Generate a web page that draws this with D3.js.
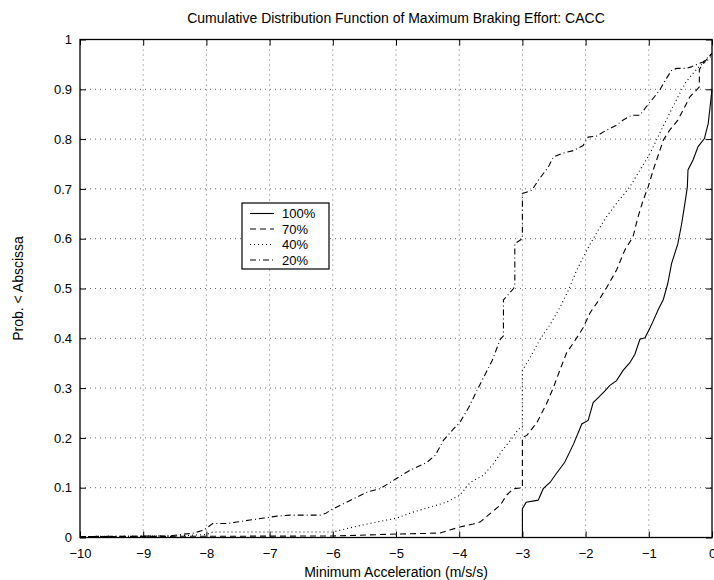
<!DOCTYPE html>
<html><head><meta charset="utf-8">
<script src="https://cdn.jsdelivr.net/npm/d3@7"></script>
<style>
html,body{margin:0;padding:0;background:#fff;}
svg{display:block;font-family:"Liberation Sans",Arial,Helvetica,sans-serif;}
</style></head>
<body>
<script>
const xTicks = [-10,-9,-8,-7,-6,-5,-4,-3,-2,-1,0];
const yTicks = [0,0.1,0.2,0.3,0.4,0.5,0.6,0.7,0.8,0.9,1];
const seriesNames = ["100%","70%","40%","20%"];

const cdf100 = [[-3,0],[-3,0.058],[-2.94,0.071],[-2.75,0.075],[-2.67,0.098],[-2.56,0.111],[-2.46,0.129],[-2.33,0.151],[-2.19,0.188],[-2.06,0.228],[-1.96,0.235],[-1.88,0.271],[-1.80,0.281],[-1.69,0.295],[-1.62,0.305],[-1.51,0.315],[-1.41,0.335],[-1.30,0.351],[-1.22,0.368],[-1.14,0.398],[-1.06,0.401],[-0.98,0.421],[-0.93,0.435],[-0.85,0.458],[-0.77,0.478],[-0.70,0.51],[-0.64,0.55],[-0.54,0.59],[-0.48,0.63],[-0.43,0.67],[-0.39,0.704],[-0.38,0.738],[-0.30,0.758],[-0.22,0.785],[-0.12,0.801],[-0.06,0.831],[-0.03,0.865],[0,0.9]];

const cdf70 = [[-10,0.002],[-6,0.003],[-5.46,0.005],[-5.0,0.007],[-4.57,0.008],[-4.30,0.009],[-4.15,0.015],[-3.99,0.021],[-3.78,0.027],[-3.67,0.031],[-3.51,0.048],[-3.35,0.065],[-3.25,0.085],[-3.14,0.098],[-3.0,0.1],[-3.0,0.201],[-2.93,0.205],[-2.77,0.231],[-2.62,0.268],[-2.51,0.301],[-2.41,0.335],[-2.30,0.371],[-2.17,0.395],[-2.04,0.421],[-1.93,0.451],[-1.80,0.475],[-1.67,0.501],[-1.51,0.537],[-1.38,0.577],[-1.25,0.604],[-1.17,0.644],[-1.09,0.677],[-1.01,0.704],[-0.93,0.738],[-0.85,0.768],[-0.77,0.798],[-0.67,0.818],[-0.54,0.838],[-0.43,0.865],[-0.35,0.885],[-0.25,0.898],[-0.2,0.905],[-0.2,0.94],[-0.14,0.952],[0,0.972]];

const cdf40 = [[-10,0.002],[-8.5,0.003],[-8.0,0.006],[-7.9,0.011],[-7,0.011],[-6.0,0.011],[-5.78,0.018],[-5.46,0.027],[-5.15,0.035],[-4.99,0.039],[-4.73,0.051],[-4.46,0.061],[-4.20,0.071],[-3.99,0.085],[-3.83,0.11],[-3.62,0.125],[-3.46,0.148],[-3.30,0.178],[-3.19,0.195],[-3.06,0.218],[-3.0,0.221],[-3.0,0.335],[-2.88,0.361],[-2.72,0.398],[-2.56,0.428],[-2.41,0.461],[-2.27,0.497],[-2.14,0.537],[-1.98,0.577],[-1.83,0.611],[-1.67,0.644],[-1.51,0.671],[-1.30,0.704],[-1.14,0.738],[-0.98,0.771],[-0.83,0.811],[-0.67,0.852],[-0.51,0.892],[-0.41,0.915],[-0.30,0.932],[-0.19,0.948],[-0.09,0.955],[0,0.969]];

const cdf20 = [[-10,0.002],[-8.6,0.003],[-8.41,0.006],[-8.2,0.009],[-8.04,0.015],[-7.9,0.028],[-7.67,0.028],[-7.52,0.031],[-7.31,0.035],[-7.09,0.039],[-6.88,0.043],[-6.67,0.045],[-6.20,0.045],[-6.12,0.048],[-5.99,0.058],[-5.78,0.071],[-5.46,0.091],[-5.25,0.098],[-5.0,0.118],[-4.78,0.135],[-4.51,0.151],[-4.38,0.165],[-4.25,0.195],[-4.09,0.218],[-3.99,0.231],[-3.85,0.261],[-3.72,0.295],[-3.62,0.32],[-3.48,0.355],[-3.35,0.398],[-3.30,0.405],[-3.30,0.477],[-3.14,0.5],[-3.12,0.505],[-3.12,0.59],[-3.0,0.60],[-3.0,0.691],[-2.85,0.697],[-2.75,0.717],[-2.59,0.744],[-2.51,0.764],[-2.38,0.771],[-2.19,0.777],[-2.04,0.787],[-1.96,0.804],[-1.83,0.806],[-1.67,0.818],[-1.51,0.828],[-1.41,0.838],[-1.27,0.848],[-1.14,0.848],[-1.04,0.865],[-0.93,0.882],[-0.83,0.898],[-0.72,0.922],[-0.64,0.938],[-0.56,0.942],[-0.41,0.942],[-0.33,0.945],[-0.14,0.955],[0,0.972]];

const W = 714, H = 580;
const m = {left:80, right:2, top:39.5, bottom:42.5};
const iw = W - m.left - m.right, ih = H - m.top - m.bottom;

const svg = d3.select("body").append("svg").attr("width",W).attr("height",H);
const x = d3.scaleLinear().domain([-10,0]).range([m.left, m.left+iw]);
const y = d3.scaleLinear().domain([0,1]).range([m.top+ih, m.top]);

// grid
const grid = svg.append("g").attr("stroke","#000").attr("stroke-width",0.6).attr("stroke-dasharray","1,4");
grid.selectAll(".gx").data(xTicks.slice(1,-1)).join("line")
  .attr("x1",d=>x(d)).attr("x2",d=>x(d)).attr("y1",m.top).attr("y2",m.top+ih);
grid.selectAll(".gy").data(yTicks.slice(1,-1)).join("line")
  .attr("y1",d=>y(d)).attr("y2",d=>y(d)).attr("x1",m.left).attr("x2",m.left+iw);

// axes with inward ticks
const fmtX = d => d < 0 ? "\u2212" + Math.abs(d) : String(d);
const fmtY = d => String(+d.toFixed(1));
function styleAxis(g){ g.select(".domain").remove(); g.selectAll("line").attr("stroke","#000"); g.selectAll("text").attr("fill","#000").attr("font-size","13px"); }
svg.append("g").attr("transform",`translate(0,${m.top+ih})`)
  .call(d3.axisBottom(x).tickValues(xTicks).tickFormat(fmtX).tickSizeInner(-6).tickPadding(11)).call(styleAxis);
svg.append("g").attr("transform",`translate(0,${m.top})`)
  .call(d3.axisTop(x).tickValues(xTicks).tickFormat("").tickSizeInner(-6)).call(styleAxis);
svg.append("g").attr("transform",`translate(${m.left},0)`)
  .call(d3.axisLeft(y).tickValues(yTicks).tickFormat(fmtY).tickSizeInner(-6).tickPadding(8)).call(styleAxis);
svg.append("g").attr("transform",`translate(${m.left+iw},0)`)
  .call(d3.axisRight(y).tickValues(yTicks).tickFormat("").tickSizeInner(-6)).call(styleAxis);

svg.append("rect").attr("x",m.left).attr("y",m.top).attr("width",iw).attr("height",ih)
  .attr("fill","none").attr("stroke","#000").attr("stroke-width",1.3);

// series
const dashes = ["none","6,4","1,3","6,3,1,3"];
const datasets = [cdf100, cdf70, cdf40, cdf20];
const line = d3.line().x(d=>x(d[0])).y(d=>y(d[1]));
datasets.forEach((data,i)=>{
  svg.append("path").datum(data).attr("d",line).attr("fill","none")
    .attr("stroke","#000").attr("stroke-width",1.1)
    .attr("stroke-dasharray",dashes[i]);
});

// legend
const lg = svg.append("g").attr("transform","translate(242,203)");
lg.append("rect").attr("width",87).attr("height",66).attr("fill","#fff").attr("stroke","#000").attr("stroke-width",1.2);
seriesNames.forEach((n,i)=>{
  const yy = 10.5 + i*15.5;
  lg.append("line").attr("x1",8).attr("x2",32).attr("y1",yy).attr("y2",yy)
    .attr("stroke","#000").attr("stroke-width",1.1).attr("stroke-dasharray",dashes[i]);
  lg.append("text").attr("x",40).attr("y",yy).attr("dy","0.35em").attr("font-size","13px").text(n);
});

// title and labels
svg.append("text").attr("x",x(-5)).attr("y",23).attr("text-anchor","middle").attr("font-size","14px")
  .text("Cumulative Distribution Function of Maximum Braking Effort: CACC");
svg.append("text").attr("x",x(-5)).attr("y",577).attr("text-anchor","middle").attr("font-size","14px")
  .text("Minimum Acceleration (m/s/s)");
svg.append("text").attr("transform",`translate(23,${m.top+ih/2}) rotate(-90)`).attr("text-anchor","middle").attr("font-size","14px")
  .text("Prob. < Abscissa");
</script>
</body></html>
